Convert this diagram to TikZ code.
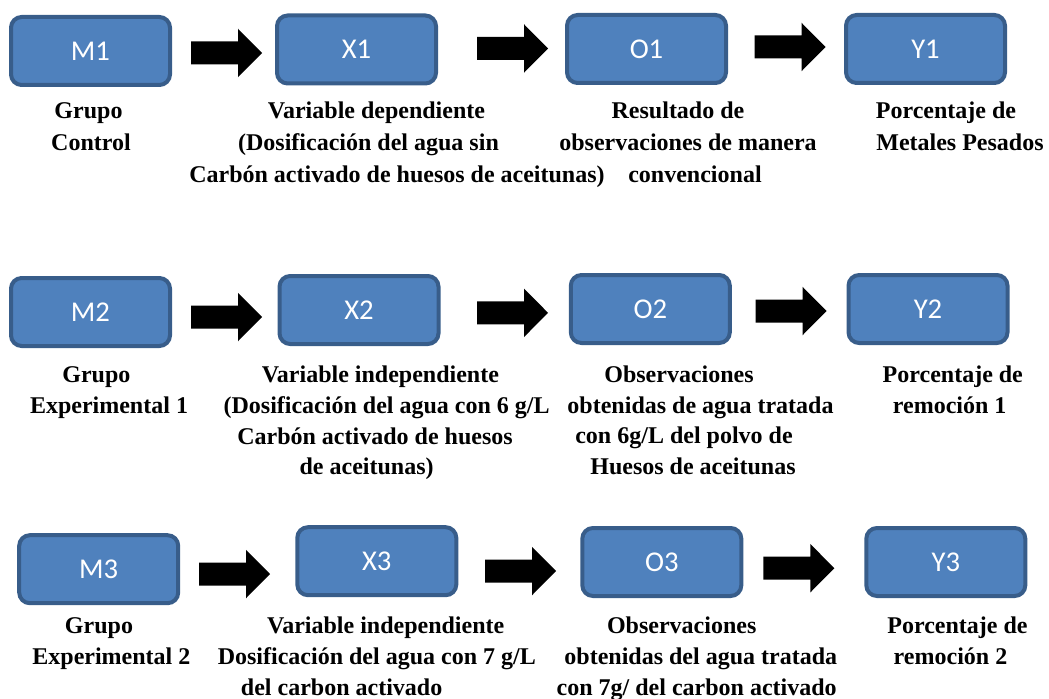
\documentclass[tikz,border=0pt]{standalone}
\usepackage{fontspec}
\setmainfont{Liberation Serif}
\newfontfamily\boxfont{Carlito}
\definecolor{boxfill}{HTML}{4F81BD}
\definecolor{boxline}{HTML}{385D8A}
\begin{document}
\begin{tikzpicture}[x=0.75pt,y=-0.75pt,
  box/.style={draw=boxline, fill=boxfill, line width=3pt, rounded corners=8pt,
    minimum width=119.25pt, minimum height=51pt, inner sep=0pt, text=white,
    font=\boxfont\fontsize{21.5pt}{25pt}\selectfont},
  blockarrow/.pic={\fill[black] (0,-11.5) -- (47,-11.5) -- (47,-24.25) -- (71,0)
    -- (47,24.25) -- (47,11.5) -- (0,11.5) -- cycle;},
  lbl/.style={anchor=base, inner sep=0pt, font=\bfseries\fontsize{18pt}{22pt}\selectfont}]
\path[use as bounding box] (0,0) rectangle (1049,699);

% row 1
\node[box] (m1) at (90.5,51) {M1};
\node[box] (x1) at (356.5,49.5) {X1};
\node[box] (o1) at (646.5,49) {O1};
\node[box] (y1) at (925.5,49) {Y1};
\coordinate (a11) at (191,53);
\coordinate (a12) at (477,48.5);
\coordinate (a13) at (754.5,47);
\pic at (a11) {blockarrow};
\pic at (a12) {blockarrow};
\pic at (a13) {blockarrow};

% row 2
\node[box] (m2) at (90.5,312) {M2};
\node[box] (x2) at (359,310) {X2};
\node[box] (o2) at (650.3,309) {O2};
\node[box] (y2) at (928,309) {Y2};
\coordinate (a21) at (191,317);
\coordinate (a22) at (477,312.8);
\coordinate (a23) at (755.5,311);
\pic at (a21) {blockarrow};
\pic at (a22) {blockarrow};
\pic at (a23) {blockarrow};

% row 3
\node[box] (m3) at (98.7,569.2) {M3};
\node[box] (x3) at (376.8,561.2) {X3};
\node[box] (o3) at (661.8,562) {O3};
\node[box] (y3) at (945.8,562) {Y3};
\coordinate (a31) at (199,574);
\coordinate (a32) at (485,571);
\coordinate (a33) at (763.3,568.2);
\pic at (a31) {blockarrow};
\pic at (a32) {blockarrow};
\pic at (a33) {blockarrow};

% labels row 1
\node[lbl] (lm1a) at (88.5,118.5) {Grupo};
\node[lbl] (lm1b) at (91,150) {Control};
\node[lbl] (lx1a) at (376.5,118.5) {Variable dependiente};
\node[lbl] (lx1b) at (368.5,150) {(Dosificación del agua sin};
\node[lbl] (lx1c) at (397,182) {Carbón activado de huesos de aceitunas)};
\node[lbl] (lo1a) at (678,118.5) {Resultado de};
\node[lbl] (lo1b) at (688,150) {observaciones de manera};
\node[lbl] (lo1c) at (695,182) {convencional};
\node[lbl] (ly1a) at (946,118.5) {Porcentaje de};
\node[lbl] (ly1b) at (960,150) {Metales Pesados};

% labels row 2
\node[lbl] (lm2a) at (96.4,382.7) {Grupo};
\node[lbl] (lm2b) at (109,413) {Experimental 1};
\node[lbl] (lx2a) at (380.4,382.7) {Variable independiente};
\node[lbl] (lx2b) at (386.6,413) {(Dosificación del agua con 6 g/L};
\node[lbl] (lx2c) at (375,444.3) {Carbón activado de huesos};
\node[lbl] (lx2d) at (366.6,474) {de aceitunas)};
\node[lbl] (lo2a) at (679,382.7) {Observaciones};
\node[lbl] (lo2b) at (700.5,413) {obtenidas de agua tratada};
\node[lbl] (lo2c) at (684,443.5) {con 6g/L del polvo de};
\node[lbl] (lo2d) at (693,474) {Huesos de aceitunas};
\node[lbl] (ly2a) at (952.8,382.7) {Porcentaje de};
\node[lbl] (ly2b) at (949.7,413) {remoción 1};

% labels row 3
\node[lbl] (lm3a) at (99,633) {Grupo};
\node[lbl] (lm3b) at (111.4,664) {Experimental 2};
\node[lbl] (lx3a) at (385.7,633) {Variable independiente};
\node[lbl] (lx3b) at (376.8,664) {Dosificación del agua con 7 g/L};
\node[lbl] (lx3c) at (341.6,695) {del carbon activado};
\node[lbl] (lo3a) at (681.7,633) {Observaciones};
\node[lbl] (lo3b) at (700.8,664) {obtenidas del agua tratada};
\node[lbl] (lo3c) at (696.7,695) {con 7g/ del carbon activado};
\node[lbl] (ly3a) at (957.5,633) {Porcentaje de};
\node[lbl] (ly3b) at (950.5,664) {remoción 2};
\end{tikzpicture}
\end{document}
